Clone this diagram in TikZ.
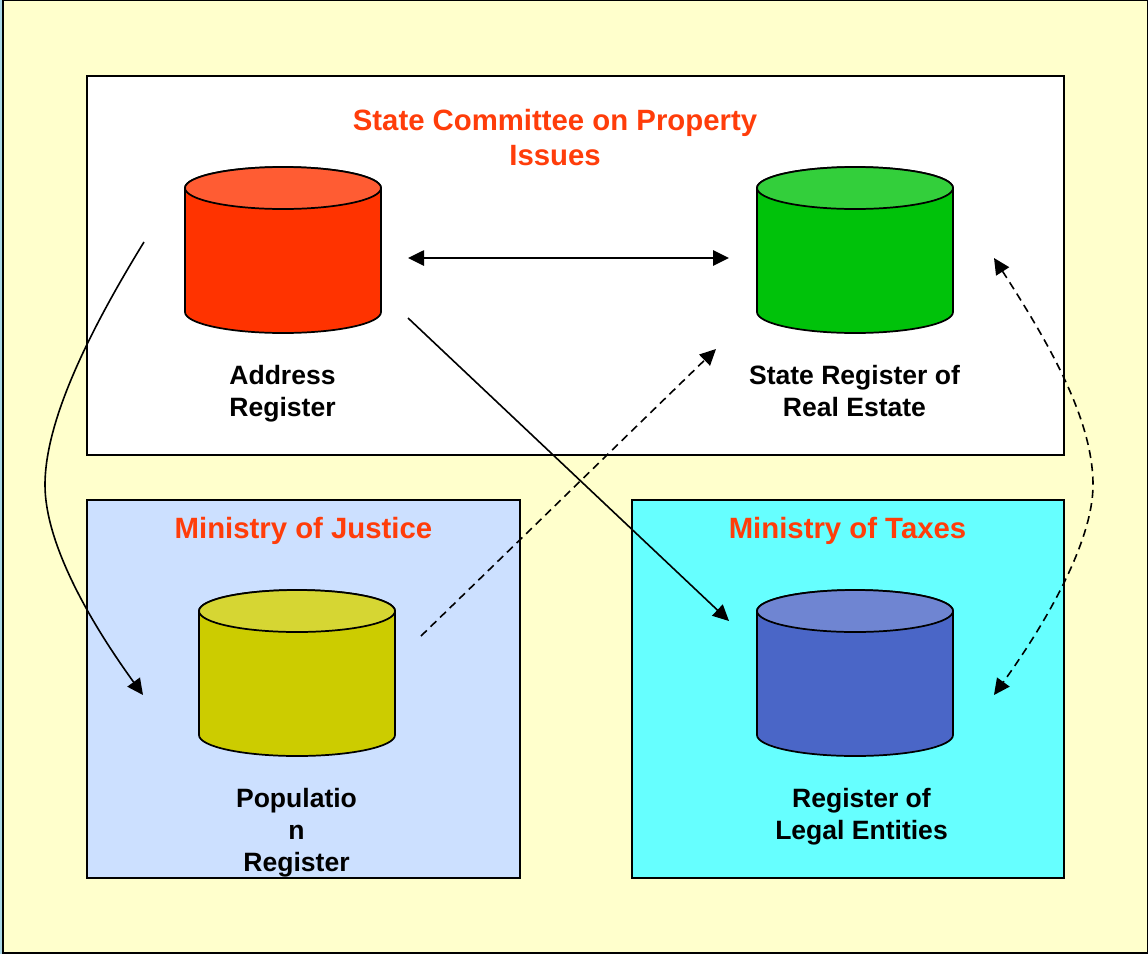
\documentclass[tikz,border=0pt]{standalone}
\usepackage{fontspec}
\setmainfont{Liberation Sans}
\usetikzlibrary{arrows.meta}
\definecolor{pageblue}{HTML}{A9D8E8}
\definecolor{outerfill}{HTML}{FFFFCC}
\definecolor{justicefill}{HTML}{CCE0FF}
\definecolor{taxfill}{HTML}{66FFFF}
\definecolor{titlered}{HTML}{FF3D0A}
\definecolor{cylred}{HTML}{FF3300}
\definecolor{cylredtop}{HTML}{FF5C33}
\definecolor{cylgreen}{HTML}{00C20A}
\definecolor{cylgreentop}{HTML}{33CF3B}
\definecolor{cylyellow}{HTML}{CCCC00}
\definecolor{cylyellowtop}{HTML}{D6D633}
\definecolor{cylblue}{HTML}{4A66C7}
\definecolor{cylbluetop}{HTML}{6F85D2}
\tikzset{
  x=0.75pt,y=-0.75pt,
  panel/.style={draw=black,line width=1.5pt},
  heading/.style={text=titlered,font=\fontsize{22}{26}\selectfont\bfseries,align=center,inner sep=0pt,anchor=center},
  caption/.style={text=black,font=\fontsize{19.9}{24}\selectfont\bfseries,align=center,inner sep=0pt,anchor=center},
  link/.style={line width=1.2pt,-{Triangle[length=12pt,width=11.5pt]}},
  linkboth/.style={line width=1.2pt,{Triangle[length=12pt,width=11.5pt]}-{Triangle[length=12pt,width=11.5pt]}},
  dashlink/.style={dash pattern=on 6pt off 4pt},
  pics/dbcyl/.style 2 args={code={
    \path[fill=#1,draw=black,line width=1.3pt] (-98,0) -- (-98,124) arc[start angle=180,end angle=0,x radius=98,y radius=21] -- (98,0) arc[start angle=0,end angle=-180,x radius=98,y radius=21] -- cycle;
    \path[fill=#2,draw=black,line width=1.3pt] (0,0) ellipse[x radius=98,y radius=21];
  }}
}
\begin{document}
\begin{tikzpicture}
\useasboundingbox (0,0) rectangle (1148,954);
\fill[pageblue] (0,0) rectangle (1148,954);
\draw[panel,fill=outerfill] (3,0) rectangle (1148,952.5);
\draw[panel,fill=white] (87,76) rectangle (1064,454.5);
\draw[panel,fill=justicefill] (87,499.5) rectangle (520,877.5);
\draw[panel,fill=taxfill] (631.5,499.5) rectangle (1064,877.5);

\node[heading] (tcommittee) at (555,137.5) {State Committee on Property\\Issues};
\node[heading] (tjustice) at (303.5,531) {Ministry of Justice};
\node[heading] (ttaxes) at (847.5,531) {Ministry of Taxes};

\pic at (283,188) {dbcyl={cylred}{cylredtop}};
\pic at (855,188) {dbcyl={cylgreen}{cylgreentop}};
\pic at (297,611) {dbcyl={cylyellow}{cylyellowtop}};
\pic at (855,611) {dbcyl={cylblue}{cylbluetop}};

\node[caption] (laddress) at (282.5,394) {Address\\Register};
\node[caption] (lstate) at (854.5,391) {State Register of\\Real Estate};
\node[caption] (lpop) at (296.5,833) {Populatio\\n\\Register};
\node[caption] (llegal) at (861.5,817) {Register of\\Legal Entities};

\coordinate (aL) at (144,242);
\coordinate (pL) at (143,695);
\coordinate (aR) at (408,258);
\coordinate (sL) at (729,258);
\coordinate (aD) at (408,318);
\coordinate (lT) at (729,621);
\coordinate (pR) at (421,636);
\coordinate (sD) at (716,349);
\coordinate (sR) at (994,258);
\coordinate (lR) at (994,695);

\draw[linkboth] (aR) -- (sL);
\draw[link] (aD) -- (lT);
\draw[link,dashlink] (pR) -- (sD);
\draw[link] (aL) .. controls (90,330) and (45,420) .. (45,485) .. controls (45,540) and (85,615) .. (pL);
\draw[linkboth,dashlink] (sR) .. controls (1050,345) and (1093,420) .. (1093,485) .. controls (1093,540) and (1048,620) .. (lR);
\end{tikzpicture}
\end{document}
